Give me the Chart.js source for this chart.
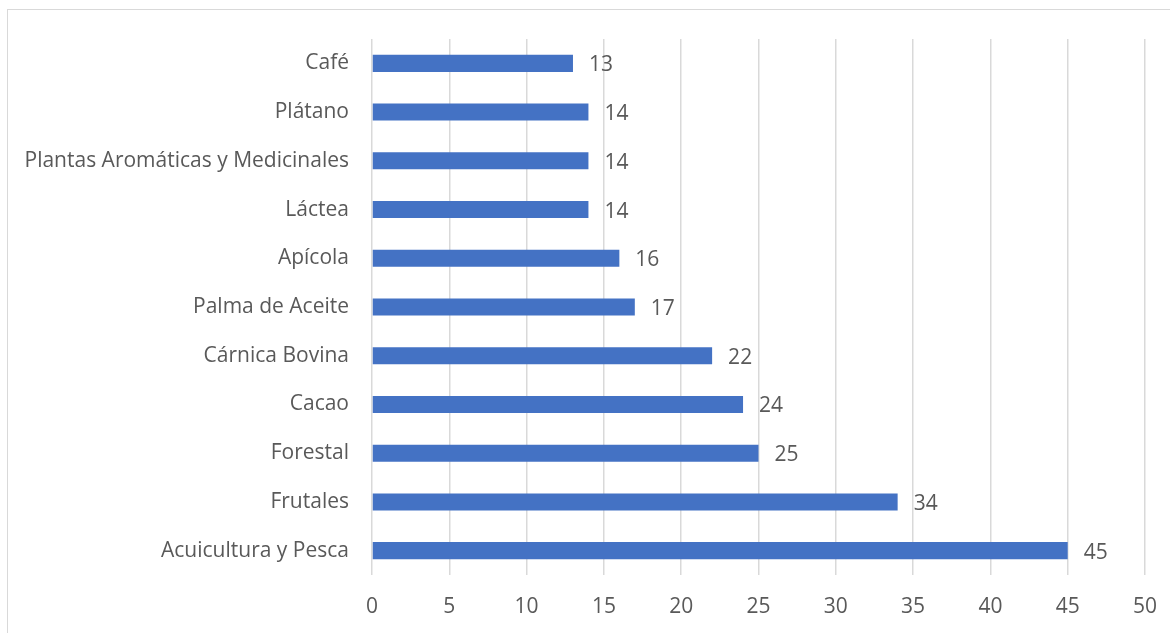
<!DOCTYPE html>
<html>
<head>
<meta charset="utf-8">
<script src="https://cdn.jsdelivr.net/npm/chart.js@4"></script>
<style>
  html, body { margin: 0; padding: 0; background: #fff; overflow: hidden; }
  #wrap { position: relative; width: 1170px; height: 633px; }
  #frame { position: absolute; left: 7px; top: 9px; width: 1200px; height: 700px; border: 1px solid #d9d9d9; box-sizing: border-box; }
  canvas { position: absolute; left: 0; top: 0; }
</style>
</head>
<body>
<div id="wrap">
  <div id="frame"></div>
  <canvas id="chart" width="1170" height="633"></canvas>
</div>
<script>
// cadenas productivas, de arriba hacia abajo
const categories = [
  'Café', 'Plátano', 'Plantas Aromáticas y Medicinales', 'Láctea', 'Apícola',
  'Palma de Aceite', 'Cárnica Bovina', 'Cacao', 'Forestal', 'Frutales', 'Acuicultura y Pesca'
];
const values = [13, 14, 14, 14, 16, 17, 22, 24, 25, 34, 45];
const xTicks = [0, 5, 10, 15, 20, 25, 30, 35, 40, 45, 50];

const FONT = { family: '"Open Sans", sans-serif', size: 21 };
const TEXT = '#595959';

// escribe el valor al final de cada barra
const valueLabels = {
  id: 'valueLabels',
  afterDatasetsDraw(chart) {
    const ctx = chart.ctx;
    const meta = chart.getDatasetMeta(0);
    ctx.save();
    ctx.font = FONT.size + 'px ' + FONT.family;
    ctx.fillStyle = TEXT;
    ctx.textAlign = 'left';
    ctx.textBaseline = 'middle';
    meta.data.forEach((bar, i) => {
      ctx.fillText(String(values[i]), bar.x + 16, bar.y + 2);
    });
    ctx.restore();
  }
};

new Chart(document.getElementById('chart'), {
  type: 'bar',
  data: {
    labels: categories,
    datasets: [{
      data: values,
      backgroundColor: '#4472C4',
      borderWidth: 0,
      barPercentage: 0.35,
      categoryPercentage: 1
    }]
  },
  options: {
    indexAxis: 'y',
    responsive: false,
    animation: false,
    layout: { padding: { top: 39, right: 25, left: 0, bottom: 0 } },
    plugins: { legend: { display: false }, tooltip: { enabled: false } },
    scales: {
      x: {
        min: 0,
        max: 50,
        afterBuildTicks(scale) { scale.ticks = xTicks.map(v => ({ value: v })); },
        afterFit(scale) {
          scale.height = 58;
          scale.paddingLeft = 0;
          scale.paddingRight = 0;
        },
        grid: { color: '#d9d9d9', lineWidth: 1.5, drawTicks: false },
        border: { display: false },
        ticks: { color: TEXT, font: FONT, padding: 19, maxRotation: 0 }
      },
      y: {
        afterFit(scale) { scale.width = 372; },
        grid: { display: false, drawTicks: false },
        border: { display: false },
        ticks: { color: TEXT, font: FONT, padding: 23, autoSkip: false }
      }
    }
  },
  plugins: [valueLabels]
});
</script>
</body>
</html>
